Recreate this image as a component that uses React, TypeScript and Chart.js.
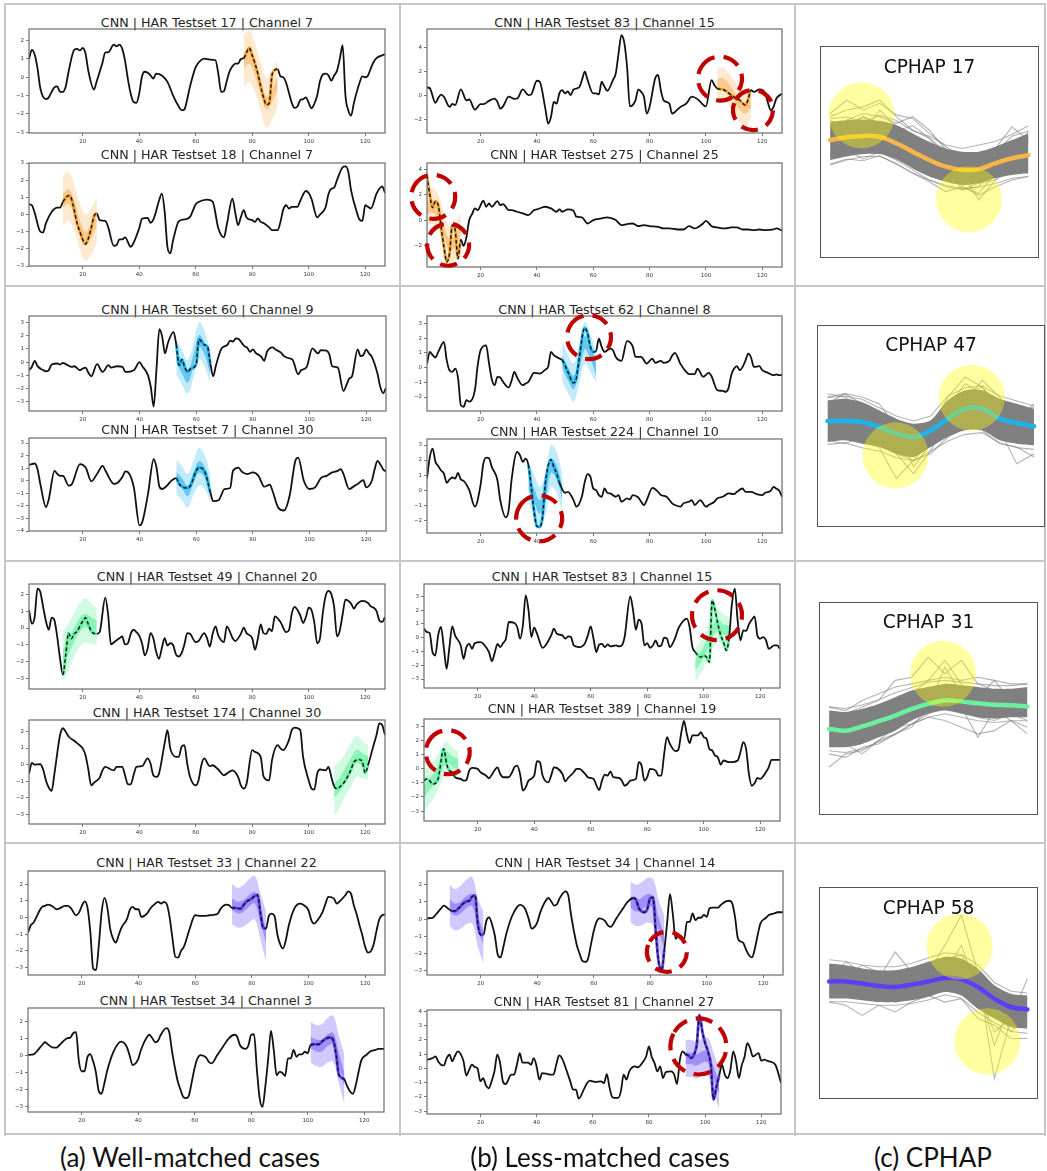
import React, { useEffect, useRef } from "react";
import { Chart, registerables } from "chart.js";

Chart.register(...registerables);
Chart.defaults.font.family = "'DejaVu Sans', sans-serif";

type Pt = [number, number];
type Band = { x0: number; center: number[]; inner: number[]; outer: number[] };
type Circ = { x: number; y: number };

// ---------------- series ----------------
const har17ch7: Pt[] = [[1,1.0],[2,1.5],[3,1.25],[4,0.5],[5,-0.6],[7,-1.2],[8,-1.1],[9,-0.8],[10,-0.55],[11,-0.5],[12,-0.8],[13,-0.8],[14,-0.5],[15,0.3],[17,1.5],[18,1.55],[19,1.47],[20,1.6],[21,1.3],[22,0.35],[24,-0.67],[25,-0.2],[27,0.8],[28,1.36],[29,1.36],[31,1.78],[32,1.7],[33,1.78],[34,1.55],[35,0.9],[36,-0.1],[37,-0.9],[38,-1.35],[39,-1.4],[40,-0.9],[41,0.05],[42,0.3],[43,0.25],[44,0.1],[45,-0.07],[46,0.2],[48,0.1],[50,-0.25],[52,-1.0],[54,-1.6],[55,-1.8],[56,-1.76],[57,-1.2],[58,-0.5],[60,0.55],[62,0.95],[63,1.02],[65,0.97],[67,0.93],[68,0.2],[69,-0.8],[70,-0.76],[71,-0.2],[72,0.33],[73,0.6],[74,0.75],[75,0.75],[76,1.0],[77,1.05],[79,1.6],[80,1.2],[81,0.75],[82,0.2],[83,-0.5],[84,-1.1],[85,-1.5],[86,-1.44],[87,0.1],[88,0.4],[89,0.45],[90,0.05],[91,0.0],[92,-0.3],[93,-0.85],[94,-1.4],[95,-1.67],[96,-1.6],[97,-1.25],[98,-1.2],[99,-1.1],[100,-1.4],[101,-1.7],[102,-1.45],[103,-1.0],[104,-0.2],[105,0.15],[106,0.2],[107,0.1],[108,-0.18],[109,0.1],[110,0.35],[111,1.0],[112,1.75],[113,-1.0],[114,-1.8],[115,-2.1],[116,-1.4],[118,-0.3],[119,0.05],[120,0.0],[121,0.1],[122,0.5],[123,0.85],[124,1.05],[126,1.2],[127,1.25]];

const har18ch7: Pt[] = [[1,0.6],[2,0.54],[3,0.1],[5,-1.0],[6,-1.05],[7,-0.5],[9,0.15],[11,0.4],[12,0.4],[13,0.73],[15,1.1],[16,0.93],[18,-0.5],[19,-1.0],[21,-1.72],[22,-1.4],[23,-0.8],[24,-0.1],[25,0.06],[26,-0.33],[28,-0.37],[29,-0.72],[31,-1.82],[32,-1.78],[33,-1.45],[34,-1.45],[35,-1.33],[37,-1.88],[38,-1.65],[40,-0.8],[41,-0.25],[43,-0.2],[44,-0.48],[45,-0.3],[46,0.2],[47,0.8],[48,1.22],[49,0.2],[50,-1.9],[51,-2.26],[52,-1.5],[54,-0.4],[56,-0.29],[58,-0.14],[60,0.6],[61,0.73],[64,0.87],[66,0.75],[68,-0.8],[70,-1.33],[71,-0.6],[73,0.93],[74,0.1],[75,-0.62],[76,-0.14],[77,0.25],[78,-0.17],[80,-0.33],[81,-0.43],[82,-0.23],[83,-0.43],[84,-0.5],[86,-0.75],[87,-0.91],[89,-0.91],[90,-0.43],[91,0.3],[92,0.54],[93,0.35],[94,0.44],[96,0.44],[97,0.8],[99,1.37],[100,1.25],[101,0.9],[103,-0.17],[104,0.0],[106,0.44],[107,1.2],[108,1.5],[109,1.57],[110,2.0],[112,2.75],[113,2.8],[114,2.5],[115,1.41],[117,0.15],[118,-0.3],[119,-0.37],[120,0.54],[121,0.45],[122,0.35],[124,1.22],[125,1.5],[126,1.64],[127,1.26]];

const har83ch15a: Pt[] = [[1,0.67],[2,0.6],[4,-0.6],[5,-0.2],[6,0.08],[7,-0.1],[9,-0.94],[10,-0.7],[11,-0.8],[13,0.5],[15,-0.4],[16,-0.33],[18,-1.17],[20,-0.72],[21,-0.72],[23,-0.44],[25,-0.25],[26,-0.53],[27,-1.08],[28,-0.9],[30,-0.1],[32,-0.28],[33,-0.25],[35,0.5],[37,0.03],[38,0.1],[40,1.22],[41,1.14],[43,-1.08],[44,-2.33],[45,-1.78],[46,-0.53],[47,-0.67],[48,0.2],[49,0.45],[50,0.17],[51,0.33],[52,0.03],[53,0.5],[55,0.67],[56,1.28],[57,1.97],[58,1.28],[60,0.17],[61,0.17],[62,0.1],[63,1.14],[64,0.72],[65,0.39],[67,1.28],[68,1.83],[69,3.5],[70,5.0],[71,4.4],[72,2.4],[73,-0.9],[75,-0.4],[76,0.5],[77,0.3],[78,-0.1],[79,-1.5],[80,-0.94],[82,1.42],[83,1.7],[84,0.44],[85,-0.4],[87,-0.67],[88,-1.5],[89,-1.36],[91,-0.94],[93,-0.67],[95,-0.1],[97,-0.3],[98,-0.53],[100,-0.9],[102,1.28],[103,0.86],[104,0.58],[106,0.5],[107,0.39],[109,0.03],[111,-0.25],[112,-0.39],[114,-0.8],[115,-0.3],[116,0.44],[117,0.3],[119,0.5],[121,0.22],[122,-0.6],[123,-1.22],[124,-0.94],[125,-0.25],[127,0.15]];

const har275ch25: Pt[] = [[1,3.5],[2,2.0],[3,1.0],[4,1.5],[5,1.2],[6,-0.5],[7,-2.07],[8,-3.25],[9,-2.6],[10,-0.37],[11,-0.76],[12,-3.0],[13,-1.5],[14,-2.0],[15,-1.3],[16,0.03],[17,0.5],[18,0.94],[19,0.81],[21,1.54],[22,1.07],[23,1.33],[24,1.07],[26,1.52],[27,1.2],[28,1.28],[30,0.81],[31,0.81],[33,0.68],[35,0.55],[37,0.42],[39,0.81],[40,0.86],[43,1.07],[45,0.94],[47,0.68],[48,0.86],[49,0.68],[51,0.86],[53,0.76],[54,0.29],[56,0.24],[58,-0.24],[60,0.03],[63,0.16],[65,0.24],[68,0.03],[70,-0.37],[72,-0.29],[74,-0.24],[76,-0.45],[78,-0.37],[80,-0.45],[83,-0.5],[85,-0.63],[87,-0.63],[90,-0.71],[92,-0.71],[94,-0.45],[96,-0.63],[97,-0.55],[99,-0.24],[100,-0.03],[102,-0.45],[104,-0.55],[107,-0.63],[109,-0.55],[111,-0.55],[113,-0.71],[115,-0.71],[117,-0.76],[119,-0.71],[121,-0.76],[124,-0.71],[125,-0.63],[127,-0.8]];

const har60ch9: Pt[] = [[1,-0.61],[2,-0.36],[3,0.1],[4,-0.3],[6,-0.6],[7,-0.69],[8,-0.6],[9,-0.18],[11,-0.1],[12,-0.18],[13,-0.05],[14,-0.15],[16,-0.36],[17,-0.31],[19,-0.61],[20,-0.48],[21,-0.41],[22,-0.82],[23,-1.07],[25,-0.15],[27,-0.74],[29,-0.23],[30,-0.41],[32,-0.31],[34,-0.36],[35,-0.74],[38,-0.61],[40,0.0],[41,-0.3],[43,-1.0],[44,-1.9],[45,-3.37],[46,-0.5],[47,2.5],[48,1.94],[49,0.66],[50,1.43],[52,2.3],[53,1.3],[54,-0.23],[55,0.2],[56,-0.4],[57,-0.74],[58,-0.5],[60,-0.15],[61,1.73],[63,1.3],[64,1.17],[65,-0.1],[66,-1.07],[67,-0.23],[69,1.05],[71,1.3],[72,1.63],[73,1.56],[74,1.81],[75,1.75],[77,1.22],[78,1.1],[79,0.79],[80,0.97],[81,0.71],[83,0.41],[84,0.1],[85,0.79],[87,1.12],[88,0.97],[90,0.71],[91,0.46],[93,0.28],[94,0.2],[96,-0.92],[97,-0.61],[99,-0.36],[101,1.05],[103,0.66],[104,0.92],[106,0.87],[107,0.59],[108,-0.31],[110,-0.41],[112,-2.19],[113,-1.76],[114,-1.25],[115,-1.07],[117,0.97],[118,0.46],[119,0.54],[120,0.97],[121,0.66],[122,0.41],[124,-0.87],[125,-1.89],[126,-2.35],[127,-1.94]];

const har7ch30: Pt[] = [[1,1.26],[3,1.37],[4,0.92],[5,-0.26],[7,-2.1],[8,-1.45],[10,0.79],[11,0.53],[12,0.39],[13,0.39],[15,-0.39],[16,-0.32],[19,1.32],[21,1.05],[23,-0.05],[25,0.53],[27,1.18],[28,0.79],[31,-0.26],[32,-0.21],[34,0.32],[35,0.74],[36,0.66],[38,-0.53],[40,-3.55],[41,-3.29],[43,-1.05],[45,1.71],[46,1.05],[47,-0.45],[48,-0.66],[50,-0.32],[51,-0.05],[53,0.21],[54,-0.26],[57,-0.58],[58,-0.39],[60,0.79],[61,1.05],[63,0.74],[65,-0.92],[66,-1.63],[68,-1.53],[70,-0.66],[72,-0.58],[73,0.79],[75,1.05],[76,0.74],[78,0.53],[80,0.66],[82,0.39],[84,-0.47],[86,-0.32],[87,-0.84],[89,-2.16],[91,-2.37],[93,-1.18],[95,1.58],[96,1.84],[98,0.0],[100,-0.66],[102,-0.53],[104,0.21],[106,0.39],[108,0.66],[110,0.79],[111,0.92],[112,0.53],[114,-0.66],[116,-0.39],[117,-0.26],[119,0.05],[120,-0.53],[122,0.0],[123,0.92],[124,1.58],[125,1.3],[126,0.9],[127,0.74]];

const har62ch8: Pt[] = [[1,0.27],[2,1.06],[3,0.84],[4,0.68],[5,1.06],[7,1.74],[8,0.5],[9,-0.2],[10,-0.29],[11,-0.07],[12,-0.68],[13,-2.55],[14,-2.66],[15,-2.21],[16,-2.32],[18,-1.53],[19,0.16],[20,1.17],[22,1.51],[23,0.3],[24,-0.8],[25,-1.2],[26,-0.63],[27,-0.68],[28,-0.97],[30,-1.35],[31,-0.9],[32,-0.29],[33,-0.68],[35,-1.2],[36,-1.08],[37,-0.97],[39,-0.36],[41,-0.41],[43,-0.14],[44,0.05],[45,1.06],[46,0.84],[48,0.61],[49,0.5],[51,-0.29],[53,-1.04],[54,-0.74],[55,0.61],[57,2.7],[58,2.3],[59,1.4],[60,1.06],[61,1.13],[62,1.96],[63,1.4],[64,1.06],[66,1.29],[67,1.17],[68,0.72],[70,0.45],[72,1.8],[74,1.44],[75,0.72],[76,0.72],[77,0.72],[79,0.27],[81,0.61],[82,0.32],[84,0.45],[85,0.32],[87,0.45],[88,0.8],[89,1.0],[91,0.23],[93,-0.29],[94,-0.45],[96,-0.45],[97,-0.07],[99,-0.63],[101,-0.36],[102,-0.59],[104,-1.53],[106,-1.58],[107,-1.65],[108,-1.4],[109,-0.5],[110,-0.07],[111,0.09],[112,-0.18],[114,0.45],[115,0.95],[116,0.7],[117,0.05],[119,0.09],[120,-0.18],[122,-0.36],[124,-0.52],[125,-0.47],[126,-0.52],[127,-0.5]];

const har224ch10: Pt[] = [[1,0.77],[2,2.2],[3,2.76],[4,1.88],[5,1.6],[6,1.3],[7,1.1],[8,0.49],[9,0.71],[10,0.84],[11,0.77],[12,1.15],[13,0.71],[14,0.62],[16,0.0],[18,-1.1],[20,0.33],[21,1.77],[22,2.16],[23,2.12],[24,1.55],[26,0.66],[27,-0.66],[29,-1.81],[30,-1.32],[31,0.66],[33,2.54],[34,2.32],[35,1.88],[36,2.1],[37,1.66],[38,0.22],[39,-1.4],[40,-2.4],[41,-2.45],[42,-1.8],[43,0.44],[45,2.03],[46,1.55],[47,1.1],[48,0.5],[50,-0.18],[51,-0.11],[53,-0.66],[54,-1.1],[56,-0.4],[57,0.55],[58,1.06],[59,0.88],[60,0.11],[61,0.0],[62,-0.33],[63,-0.44],[64,0.11],[65,-0.18],[66,-0.22],[68,-0.44],[69,-0.33],[70,-0.77],[72,-0.55],[73,-0.62],[74,-0.33],[76,-0.49],[77,-0.77],[78,-0.99],[79,-0.66],[81,0.15],[83,-0.11],[84,-0.33],[86,-0.44],[88,-0.88],[89,-0.99],[91,-1.1],[92,-0.88],[94,-0.77],[95,-0.66],[96,-0.99],[98,-0.66],[100,-1.1],[101,-0.99],[103,-0.77],[104,-0.55],[106,-0.44],[108,-0.22],[110,-0.26],[111,-0.11],[113,0.11],[114,-0.11],[116,-0.11],[118,-0.26],[120,-0.33],[121,-0.18],[123,-0.04],[124,0.22],[125,0.1],[126,-0.04],[127,-0.44]];

const har49ch20: Pt[] = [[1,1.05],[2,0.26],[3,0.65],[4,2.33],[5,2.13],[6,1.25],[7,0.4],[8,-0.1],[9,0.61],[10,0.45],[11,-0.53],[12,-1.82],[13,-2.75],[14,-1.6],[15,-0.3],[16,-0.63],[17,-0.34],[18,-0.2],[19,0.1],[20,0.4],[21,0.61],[22,0.22],[23,-0.18],[25,-0.34],[26,-0.24],[28,1.8],[29,0.8],[30,-0.97],[31,-0.85],[33,-0.6],[34,-0.5],[35,-0.97],[36,-0.9],[37,-0.34],[38,-0.1],[39,-0.24],[40,-0.45],[41,-0.9],[42,-1.62],[43,-1.2],[44,-0.3],[45,-0.6],[46,-1.4],[47,-1.82],[48,-1.2],[49,-0.6],[50,-1.03],[51,-0.9],[52,-1.0],[53,-1.56],[54,-1.68],[55,-1.48],[56,-0.97],[57,-0.3],[58,-0.34],[60,-0.83],[61,-0.77],[63,-0.3],[64,-0.6],[65,-1.09],[66,-0.34],[67,0.1],[68,-0.43],[70,-0.83],[71,0.1],[73,-0.57],[74,-0.77],[76,-0.34],[77,0.02],[78,-0.3],[80,-0.6],[81,-1.28],[82,-0.63],[83,0.22],[84,-0.3],[85,-0.34],[86,-0.04],[87,-0.18],[88,0.69],[90,0.36],[92,-0.24],[93,-0.14],[94,0.85],[95,1.25],[97,0.75],[98,0.3],[99,0.65],[100,1.2],[101,1.05],[102,0.3],[103,-0.9],[104,-0.6],[105,0.9],[106,1.9],[107,2.19],[108,2.0],[109,1.25],[110,-0.49],[111,-0.14],[112,0.8],[113,1.68],[115,1.44],[116,1.15],[117,1.4],[119,1.6],[121,1.48],[122,1.28],[123,1.2],[124,1.0],[125,0.45],[126,0.36],[127,0.65]];

const har174ch30: Pt[] = [[1,-0.55],[2,0.1],[3,0.0],[5,0.02],[6,-0.3],[7,-0.96],[8,-1.4],[9,-1.6],[10,-0.55],[12,1.79],[13,2.2],[14,1.99],[15,1.7],[17,1.44],[18,1.3],[20,0.98],[21,0.57],[22,-0.3],[23,-1.26],[24,-1.1],[26,-0.79],[27,-0.35],[28,-0.14],[30,-0.3],[31,-0.35],[32,-0.14],[34,-0.14],[35,-0.65],[36,-1.2],[37,-1.2],[38,-0.65],[39,-0.14],[41,-0.1],[43,0.37],[44,0.06],[45,-0.65],[46,-0.75],[47,-0.55],[49,1.28],[50,2.09],[51,0.98],[53,0.47],[54,0.47],[55,1.08],[56,1.18],[57,0.06],[58,-0.75],[60,-1.26],[61,-0.96],[62,-0.04],[63,0.37],[65,-0.1],[66,-0.04],[68,-0.3],[70,-0.65],[71,-0.55],[73,-0.35],[75,-0.75],[76,-1.26],[77,-1.46],[78,-1.16],[80,0.87],[81,0.77],[83,0.47],[84,-0.71],[86,-0.96],[87,0.26],[89,1.18],[90,0.98],[91,0.87],[93,1.48],[94,2.09],[95,2.24],[97,2.09],[98,0.47],[100,-0.96],[101,-1.46],[102,-1.52],[103,-0.55],[104,-0.3],[106,-0.35],[107,-0.14],[108,-0.75],[109,-1.32],[110,-1.46],[111,-1.36],[113,-0.96],[115,-0.3],[116,0.16],[118,0.3],[119,0.16],[120,-0.51],[121,-0.04],[123,1.2],[124,1.79],[125,2.5],[126,2.4],[127,1.79]];

const har83ch15b: Pt[] = [[1,0.66],[2,0.41],[3,0.34],[4,-1.04],[5,-1.29],[6,0.17],[7,0.78],[8,-0.68],[9,-2.26],[10,-0.68],[11,0.83],[12,0.17],[14,-0.56],[15,-1.53],[16,-0.68],[17,-0.44],[18,-0.8],[19,-0.39],[21,-0.32],[22,-0.44],[24,-1.04],[25,-1.7],[26,-1.12],[27,-0.44],[28,-0.68],[29,-0.39],[30,-0.07],[31,1.14],[33,1.07],[34,0.78],[35,-0.07],[36,0.9],[37,3.08],[38,1.99],[39,0.05],[40,0.73],[41,0.29],[43,-0.73],[44,-0.56],[46,0.17],[47,0.66],[48,0.29],[50,0.17],[51,-0.07],[52,0.1],[53,0.05],[54,-0.56],[56,-0.68],[58,-0.39],[59,0.17],[60,0.83],[61,-0.07],[62,-1.04],[63,-0.49],[64,-0.44],[65,-0.68],[66,-0.49],[67,-0.63],[69,-0.56],[70,-0.63],[71,-0.56],[72,0.05],[74,3.0],[75,1.99],[76,0.58],[77,1.31],[78,1.02],[79,-0.56],[80,-0.39],[81,-0.73],[82,-0.56],[83,-0.19],[84,-0.63],[85,-0.56],[86,0.0],[87,-0.07],[88,-0.68],[90,0.05],[91,0.66],[92,1.02],[94,1.38],[95,0.78],[96,-0.68],[97,-1.04],[99,-1.41],[100,-1.29],[101,-1.41],[102,-1.77],[103,2.72],[104,2.0],[105,1.0],[106,0.2],[107,-0.32],[108,-0.92],[109,0.05],[110,2.5],[111,3.57],[112,1.26],[113,-0.19],[114,0.53],[115,0.49],[116,0.97],[117,1.3],[118,1.55],[119,0.17],[120,-0.07],[121,0.05],[122,-0.15],[123,-0.8],[125,-0.56],[126,-0.56],[127,-0.8]];

const har389ch19: Pt[] = [[1,-0.85],[2,-0.73],[3,-0.85],[4,-1.09],[5,-1.04],[6,-0.73],[8,1.39],[9,0.33],[10,-0.14],[11,-0.26],[12,-0.61],[14,-0.73],[15,-0.85],[16,-0.8],[17,-0.14],[18,0.05],[20,-0.02],[21,-0.26],[23,-0.5],[24,-0.69],[25,-0.43],[27,0.09],[28,-0.38],[29,-0.61],[31,-0.61],[32,-0.33],[33,0.09],[34,0.21],[35,-0.38],[36,-1.56],[37,-1.32],[38,-0.85],[40,-0.5],[41,0.52],[42,0.45],[43,-0.5],[45,-0.97],[46,-0.5],[47,0.09],[48,0.05],[50,-0.38],[51,-0.9],[52,-0.66],[54,-0.26],[55,-0.02],[56,-0.02],[58,-0.38],[59,-0.61],[60,-0.66],[61,-0.73],[63,-1.51],[64,-0.85],[65,-0.43],[66,-0.5],[67,-0.19],[68,-0.61],[70,-0.66],[71,-0.85],[72,-1.21],[73,-1.09],[74,-0.85],[76,-0.73],[77,0.45],[78,0.21],[79,-0.85],[80,-0.61],[81,-0.02],[83,-0.14],[84,-0.5],[85,-0.5],[86,1.04],[87,2.22],[88,1.75],[90,1.23],[91,1.32],[92,2.46],[93,3.36],[94,2.46],[95,1.8],[96,2.34],[98,2.34],[99,2.58],[100,2.22],[101,2.1],[102,1.39],[103,1.28],[104,0.92],[105,0.8],[106,0.28],[107,0.57],[109,0.45],[110,0.45],[112,0.57],[113,1.16],[114,1.87],[115,1.39],[116,-0.38],[117,-1.21],[118,-1.04],[119,-0.66],[120,-0.73],[122,-0.26],[123,0.09],[124,0.61],[125,0.61],[127,0.61]];

const har33ch22: Pt[] = [[1,-0.9],[2,-0.46],[3,-0.3],[4,0.04],[5,0.4],[6,0.64],[7,0.7],[8,0.78],[10,0.64],[11,0.5],[12,0.54],[14,0.7],[15,0.7],[16,0.6],[18,0.14],[19,0.3],[20,0.7],[21,0.98],[22,0.6],[23,-0.86],[24,-3.06],[25,-3.16],[26,-1.66],[27,0.34],[28,1.18],[29,0.6],[30,-0.66],[31,-1.26],[32,-1.5],[33,-1.06],[34,-0.6],[36,-0.06],[37,0.5],[38,0.64],[39,0.5],[40,0.5],[41,0.04],[43,0.24],[44,0.5],[45,0.7],[47,0.94],[48,0.84],[49,0.94],[50,0.8],[51,0.0],[52,-1.26],[53,-2.36],[54,-2.4],[55,-2.0],[56,-1.76],[57,-1.26],[58,-0.7],[60,0.14],[62,0.1],[63,0.1],[65,0.14],[67,0.18],[68,0.24],[69,0.54],[71,0.78],[72,0.74],[73,0.58],[74,0.58],[76,0.54],[77,0.74],[78,0.94],[80,1.14],[81,1.3],[82,1.38],[83,0.34],[84,-0.62],[85,-0.66],[86,0.1],[87,0.24],[88,0.1],[89,-1.0],[90,-1.6],[91,-1.86],[92,-1.36],[93,-0.5],[95,0.54],[97,0.84],[98,0.78],[100,0.44],[101,-0.16],[102,-0.36],[103,-0.2],[105,0.34],[106,0.84],[107,1.24],[109,1.14],[110,0.84],[111,0.98],[113,1.34],[114,1.58],[115,1.44],[116,0.74],[117,0.2],[118,-0.46],[119,-1.06],[120,-1.76],[121,-2.1],[122,-2.02],[123,-1.6],[124,-0.8],[125,-0.1],[126,0.14],[127,0.18]];

// Testset 34: channels 3 and 14 are drawn with the same curve in the picture
const har34: Pt[] = [[1,0.05],[3,0.08],[4,0.24],[6,0.63],[7,0.79],[8,0.67],[10,0.47],[11,0.47],[12,0.6],[14,0.93],[15,1.03],[16,1.07],[17,1.32],[18,1.38],[19,-0.3],[20,-0.91],[21,-0.91],[22,-0.1],[23,0.1],[24,-0.3],[25,-0.95],[26,-2.04],[27,-2.23],[28,-1.64],[29,-0.9],[31,0.14],[33,0.73],[34,0.83],[35,0.75],[36,0.5],[37,0.0],[38,-0.55],[40,-0.2],[41,0.35],[43,1.07],[44,1.23],[45,1.03],[46,0.79],[47,0.87],[48,1.23],[50,1.62],[51,1.38],[52,0.24],[53,-0.7],[54,-1.5],[55,-2.0],[56,-2.43],[57,-2.49],[58,-2.3],[59,-1.5],[60,-0.7],[61,-0.16],[62,0.04],[64,-0.1],[65,-0.36],[66,-0.45],[68,0.04],[70,0.53],[72,1.0],[74,1.23],[75,1.13],[76,0.63],[78,0.4],[79,0.6],[80,1.23],[81,1.26],[82,-0.8],[83,-2.5],[84,-3.0],[85,-1.8],[86,-0.2],[87,1.46],[88,0.3],[89,-1.15],[90,-0.95],[91,-1.0],[92,-1.19],[93,-0.16],[94,-0.16],[95,0.34],[96,-0.06],[97,0.08],[98,0.08],[99,0.24],[100,0.14],[101,0.63],[102,0.67],[104,0.67],[105,0.83],[107,1.05],[108,1.07],[109,0.93],[110,0.14],[111,-1.1],[112,-1.3],[113,-1.4],[114,-1.8],[115,-2.1],[116,-2.23],[117,-1.74],[118,-0.95],[119,-0.26],[121,0.08],[122,0.24],[124,0.34],[125,0.4],[127,0.4]];

const har81ch27: Pt[] = [[1,0.61],[3,0.72],[4,0.84],[5,0.49],[6,0.26],[7,0.21],[8,0.72],[9,0.96],[10,0.5],[11,0.91],[12,1.19],[13,1.0],[14,0.5],[15,-0.5],[16,-0.1],[17,0.26],[18,0.1],[19,0.0],[20,-0.91],[21,-0.68],[22,-1.2],[23,-1.4],[24,-0.9],[25,-0.21],[26,0.96],[27,0.4],[28,-0.91],[29,-1.1],[31,-0.44],[32,-0.44],[33,0.26],[34,1.07],[35,0.4],[37,0.4],[38,0.26],[39,0.72],[40,0.14],[41,-0.79],[42,-0.33],[44,-0.4],[45,-0.44],[46,-0.44],[47,0.26],[48,0.91],[49,0.72],[51,-0.33],[52,-0.91],[53,-1.49],[54,-1.49],[55,-2.12],[57,-1.4],[58,-1.03],[59,-0.86],[60,-0.91],[61,-0.96],[63,-0.91],[64,-1.03],[65,-0.4],[66,-1.38],[67,-2.03],[69,-2.07],[70,-1.61],[71,-0.44],[72,-0.79],[73,-0.21],[75,0.14],[76,0.07],[78,0.49],[79,0.84],[80,1.54],[81,0.8],[82,0.37],[83,-0.21],[84,0.14],[85,-0.68],[86,-0.26],[88,-0.21],[89,-0.44],[90,-1.1],[91,0.6],[92,1.19],[93,1.0],[94,0.91],[95,0.72],[96,0.96],[97,1.65],[98,3.75],[99,2.59],[100,1.77],[101,1.19],[102,0.3],[103,-2.19],[104,-1.3],[105,-0.5],[106,0.26],[107,-0.44],[108,-0.68],[109,-0.09],[110,1.19],[111,0.5],[112,-0.68],[113,0.2],[114,0.8],[115,1.77],[116,1.42],[117,0.84],[119,1.07],[120,0.54],[121,0.61],[122,0.54],[123,0.49],[125,0.26],[127,-1.03]];

// ---------------- highlighted CPHAP bands (sampled every 2 steps) ----------------
const band17: Band = { x0: 77, center: [0.9, 1.15, 0.5, -0.5, -1.4, -1.0, -0.3], inner: [0.42, 0.42, 0.4, 0.38, 0.35, 0.35, 0.35], outer: [1.45, 1.4, 1.35, 1.35, 1.35, 1.35, 1.3] };
const band18: Band = { x0: 13, center: [0.8, 1.05, 0.4, -0.7, -1.35, -1.0, -0.3], inner: [0.42, 0.42, 0.4, 0.38, 0.36, 0.36, 0.36], outer: [1.45, 1.4, 1.35, 1.35, 1.35, 1.35, 1.35] };
const band83a: Band = { x0: 104, center: [0.9, 1.0, 0.6, -0.1, -0.8, -1.1, -0.6], inner: [0.45, 0.45, 0.42, 0.4, 0.4, 0.4, 0.4], outer: [1.3, 1.3, 1.3, 1.35, 1.4, 1.4, 1.3] };
const band275: Band = { x0: 1, center: [1.0, 1.1, 0.6, -0.8, -1.9, -1.6, -0.8], inner: [0.5, 0.5, 0.48, 0.45, 0.45, 0.45, 0.45], outer: [1.4, 1.4, 1.4, 1.4, 1.4, 1.4, 1.4] };
const band60: Band = { x0: 53, center: [0.4, -0.4, -1.1, 0.1, 1.6, 1.0, -0.5], inner: [0.45, 0.45, 0.45, 0.45, 0.45, 0.45, 0.45], outer: [1.35, 1.3, 1.3, 1.3, 1.4, 1.35, 1.1] };
const band7: Band = { x0: 53, center: [0.3, -0.2, -0.8, 0.2, 1.1, 0.7, -0.6], inner: [0.42, 0.42, 0.42, 0.42, 0.45, 0.42, 0.4], outer: [1.4, 1.35, 1.35, 1.35, 1.5, 1.35, 1.1] };
const band62: Band = { x0: 49, center: [0.4, -0.4, -1.0, 0.2, 1.7, 1.0, 0.0], inner: [0.45, 0.45, 0.45, 0.45, 0.45, 0.45, 0.45], outer: [1.35, 1.3, 1.3, 1.3, 1.4, 1.3, 1.0] };
const band224: Band = { x0: 37, center: [0.5, -0.3, -1.1, -0.3, 1.6, 1.2, -0.2], inner: [0.45, 0.45, 0.45, 0.45, 0.45, 0.45, 0.45], outer: [1.35, 1.35, 1.35, 1.35, 1.4, 1.35, 1.3] };
const band49: Band = { x0: 13, center: [-1.7, -1.1, -0.4, 0.2, 0.45, 0.25, 0.1], inner: [0.42, 0.42, 0.4, 0.4, 0.4, 0.38, 0.38], outer: [1.5, 1.4, 1.3, 1.3, 1.3, 1.2, 1.1] };
const band174: Band = { x0: 109, center: [-1.6, -1.2, -0.6, 0.0, 0.5, 0.3, 0.1], inner: [0.42, 0.42, 0.4, 0.4, 0.4, 0.38, 0.38], outer: [1.5, 1.4, 1.3, 1.3, 1.25, 1.15, 1.05] };
const band83b: Band = { x0: 97, center: [-2.0, -1.4, -0.6, 0.4, 0.9, 0.6, 0.5], inner: [0.4, 0.4, 0.4, 0.4, 0.4, 0.38, 0.38], outer: [1.2, 1.2, 1.2, 1.2, 1.2, 1.1, 1.0] };
const band389: Band = { x0: 1, center: [-1.6, -1.1, -0.6, 0.2, 0.8, 0.5, 0.3], inner: [0.4, 0.4, 0.4, 0.4, 0.4, 0.38, 0.38], outer: [1.5, 1.4, 1.3, 1.2, 1.1, 1.0, 0.9] };
const band33: Band = { x0: 73, center: [0.8, 0.6, 0.7, 1.0, 1.2, 0.1, -1.1], inner: [0.35, 0.35, 0.35, 0.35, 0.35, 0.38, 0.4], outer: [1.2, 1.2, 1.25, 1.3, 1.3, 1.4, 1.5] };
const band34a: Band = { x0: 101, center: [0.8, 0.6, 0.6, 0.9, 1.0, -0.2, -1.4], inner: [0.35, 0.35, 0.35, 0.35, 0.35, 0.38, 0.4], outer: [1.2, 1.2, 1.25, 1.3, 1.35, 1.4, 1.45] };
const band34b: Band = { x0: 9, center: [0.8, 0.55, 0.7, 1.0, 1.1, -0.2, -1.1], inner: [0.35, 0.35, 0.35, 0.35, 0.35, 0.38, 0.4], outer: [1.2, 1.2, 1.25, 1.3, 1.35, 1.4, 1.5] };
const band34c: Band = { x0: 73, center: [1.0, 0.8, 0.9, 1.1, 1.0, -0.3, -1.3], inner: [0.35, 0.35, 0.35, 0.35, 0.35, 0.38, 0.4], outer: [1.2, 1.2, 1.25, 1.3, 1.35, 1.4, 1.5] };
const band81: Band = { x0: 93, center: [0.7, 0.7, 0.6, 0.8, 0.8, -0.3, -1.4], inner: [0.4, 0.4, 0.4, 0.4, 0.4, 0.4, 0.4], outer: [1.3, 1.3, 1.3, 1.3, 1.35, 1.4, 1.4] };

// ---------------- red dashed circles (data coordinates) ----------------
const circles83a: Circ[] = [{ x: 105, y: 1.4 }, { x: 116.7, y: -1.2 }];
const circles275: Circ[] = [{ x: 3.2, y: 1.85 }, { x: 8.5, y: -1.9 }];
const circles62: Circ[] = [{ x: 58.5, y: 2.07 }];
const circles224: Circ[] = [{ x: 40.8, y: -1.88 }];
const circles83b: Circ[] = [{ x: 104.7, y: 1.63 }];
const circles389: Circ[] = [{ x: 9.4, y: 1.16 }];
const circles34: Circ[] = [{ x: 85.9, y: -1.9 }];
const circles81: Circ[] = [{ x: 97.6, y: 1.54 }];

// ---------------- tick labels ----------------
const xTickValues = [20, 40, 60, 80, 100, 120];
const ytA = [-3, -2, -1, 0, 1, 2];
const ytB = [-3, -2, -1, 0, 1, 2, 3];
const ytC = [-2, 0, 2, 4];
const ytD = [-4, -3, -2, -1, 0, 1, 2, 3];
const ytE = [-2, -1, 0, 1, 2, 3];
const ytF = [-3, -2, -1, 0, 1, 2, 3, 4];

// ---------------- CPHAP panels (13-step patterns) ----------------
const cphap17Mean = [0.34, 0.42, 0.46, 0.44, 0.25, 0.01, -0.23, -0.42, -0.51, -0.49, -0.32, -0.18, -0.09];
const cphap17Hi = [0.86, 0.91, 0.93, 0.89, 0.77, 0.53, 0.29, 0.10, 0.01, 0.01, 0.15, 0.34, 0.53];
const cphap17Lo = [-0.23, -0.13, -0.06, -0.06, -0.21, -0.47, -0.70, -0.85, -0.94, -0.89, -0.75, -0.66, -0.61];
const cphap17Members = [
  [1.10, 1.48, 1.20, 1.39, 1.06, 0.96, 0.53, 0.15, -0.13, -0.04, 0.10, 0.72, 0.34],
  [1.01, 1.20, 1.29, 1.48, 1.01, 0.63, 0.39, -0.13, -0.61, -1.37, -0.80, -0.13, 0.25],
  [0.53, 0.91, 1.10, 1.01, 0.82, 1.01, 0.63, 0.06, -0.99, -1.18, -0.61, -0.13, 0.44],
  [0.34, 0.72, 0.53, 1.20, 0.72, 0.34, 0.15, -0.42, -1.08, -0.99, -0.42, 0.06, 0.34],
  [-0.13, -0.04, 0.06, 0.01, -0.23, -0.51, -0.80, -0.99, -1.08, -0.89, -0.80, -0.51, -0.42],
  [-0.37, -0.23, -0.13, -0.13, -0.32, -0.61, -0.85, -1.13, -0.99, -1.23, -0.99, -0.80, -0.70],
  [0.91, 0.72, 1.01, 0.82, 0.53, 0.44, 0.25, -0.04, -0.23, -0.32, -0.13, 0.06, 0.58],
  [0.95, 1.0, 0.85, 1.05, 0.9, 0.6, 0.45, 0.2, 0.1, 0.2, 0.3, 0.5, 0.75],
  [-0.35, -0.2, -0.25, -0.1, -0.35, -0.6, -0.8, -0.95, -1.05, -1.0, -0.9, -0.75, -0.7],
  [0.7, 0.8, 1.0, 0.75, 0.6, 0.75, 0.4, 0.0, -0.2, -0.1, 0.0, 0.45, 0.6],
  [-0.1, 0.05, -0.2, 0.0, -0.1, -0.3, -0.6, -0.7, -0.75, -0.7, -0.55, -0.45, -0.5],
];
const cphap17Circles: Circ[] = [{ x: 1.9, y: 1.05 }, { x: 8.4, y: -1.35 }];

const cphap47Mean = [0.15, 0.15, 0.12, -0.03, -0.23, -0.33, -0.13, 0.22, 0.52, 0.52, 0.22, 0.09, -0.01];
const cphap47Hi = [0.77, 0.82, 0.72, 0.47, 0.22, 0.07, 0.17, 0.77, 1.07, 1.07, 0.82, 0.67, 0.52];
const cphap47Lo = [-0.48, -0.43, -0.53, -0.63, -0.83, -0.93, -0.63, -0.33, -0.13, -0.13, -0.43, -0.53, -0.58];
const cphap47Members = [
  [0.17, 0.37, -0.03, -0.63, -1.58, -1.03, -0.43, 0.37, 0.97, 1.17, 0.37, -0.13, -0.33],
  [0.67, 0.97, 0.67, 0.17, -0.23, -0.53, -0.03, 0.87, 1.47, 1.17, 0.57, -0.03, -0.53],
  [-0.03, 0.07, 0.17, -0.13, -0.53, -0.83, -0.23, 0.37, 0.67, 0.57, -0.13, -1.13, -0.83],
  [0.97, 0.87, 0.57, 0.37, -0.03, -1.23, -0.53, 0.57, 1.27, 0.97, 0.67, 0.17, 0.67],
  [-0.43, -0.53, -0.33, -0.53, -0.83, -1.03, -0.83, -0.33, -0.03, -0.13, -0.53, -0.63, -0.93],
  [0.37, 0.57, 0.27, -0.23, -0.83, -1.43, -0.73, 0.17, 0.77, 1.37, 0.87, 0.07, -0.23],
  [0.87, 0.97, 0.87, 0.67, -0.03, -0.23, -0.33, -0.03, 0.17, 0.37, 0.47, 0.37, 0.57],
  [0.85, 0.9, 0.8, 0.55, 0.3, 0.15, 0.3, 0.9, 1.15, 1.2, 0.9, 0.75, 0.6],
  [-0.55, -0.5, -0.65, -0.75, -0.95, -1.05, -0.75, -0.45, -0.25, -0.2, -0.5, -0.65, -0.7],
  [0.5, 0.65, 0.45, 0.25, -0.1, -0.4, 0.0, 0.5, 0.85, 0.9, 0.65, 0.3, 0.2],
  [-0.3, -0.2, -0.35, -0.45, -0.6, -0.75, -0.45, 0.0, 0.2, 0.25, -0.1, -0.3, -0.4],
];
const cphap47Circles: Circ[] = [{ x: 3.95, y: -0.88 }, { x: 8.38, y: 0.85 }];

const cphap31Mean = [-0.58, -0.63, -0.51, -0.36, -0.20, -0.01, 0.13, 0.23, 0.20, 0.15, 0.11, 0.09, 0.06];
const cphap31Hi = [-0.06, -0.10, -0.01, 0.13, 0.32, 0.51, 0.61, 0.70, 0.66, 0.61, 0.56, 0.56, 0.61];
const cphap31Lo = [-1.10, -1.10, -1.01, -0.82, -0.63, -0.34, -0.15, -0.06, -0.15, -0.25, -0.29, -0.25, -0.25];
const cphap31Members = [
  [-1.67, -1.29, -1.20, -0.91, -0.72, -0.44, -0.15, 0.04, -0.06, -0.25, -0.34, -0.15, -0.06],
  [-0.25, -0.15, 0.04, 0.23, 0.80, 0.89, 1.46, 0.99, 1.37, 0.70, 0.51, 0.42, 0.42],
  [-0.53, -0.44, -0.25, -0.06, 0.23, 0.42, 0.61, 0.42, 0.04, -0.82, -0.06, -0.34, -0.53],
  [-1.29, -1.39, -1.10, -1.01, -0.72, -0.53, 0.04, 1.18, 0.42, 0.23, 0.04, -0.15, -0.34],
  [0.04, -0.06, 0.23, 0.42, 0.61, 0.70, 0.80, 0.89, 0.80, 0.89, 0.80, 0.70, 0.70],
  [-0.91, -1.01, -1.29, -0.91, -0.53, -0.44, -0.25, -0.34, -0.53, -0.72, -0.63, -0.34, -0.72],
  [-0.72, -0.82, -0.72, -0.44, 0.04, 0.42, 0.80, 1.37, 0.70, 0.32, 0.80, 0.23, 0.13],
  [0.05, 0.0, 0.1, 0.25, 0.45, 0.6, 0.75, 0.8, 0.75, 0.7, 0.65, 0.65, 0.7],
  [-1.2, -1.25, -1.15, -0.95, -0.75, -0.45, -0.25, -0.15, -0.25, -0.35, -0.4, -0.35, -0.35],
  [-0.3, -0.35, -0.2, -0.05, 0.15, 0.35, 0.5, 0.55, 0.5, 0.45, 0.4, 0.35, 0.4],
  [-0.85, -0.9, -0.8, -0.65, -0.45, -0.2, -0.05, 0.05, 0.0, -0.1, -0.15, -0.1, -0.15],
];
const cphap31Circles: Circ[] = [{ x: 6.9, y: 0.99 }];

const cphap58Mean = [0.33, 0.33, 0.27, 0.20, 0.17, 0.24, 0.33, 0.43, 0.39, 0.17, -0.16, -0.40, -0.47];
const cphap58Hi = [0.84, 0.79, 0.70, 0.65, 0.65, 0.74, 0.89, 1.03, 0.98, 0.70, 0.22, -0.02, -0.07];
const cphap58Lo = [-0.16, -0.16, -0.21, -0.26, -0.26, -0.21, -0.11, 0.03, -0.07, -0.45, -0.73, -0.97, -1.02];
const cphap58Members = [
  [0.22, 0.31, 0.22, 0.12, 0.22, 0.41, 0.60, 1.36, 2.22, 0.60, -2.45, -0.73, -0.54],
  [0.41, 0.89, 0.60, 0.41, 1.17, 0.60, 0.79, 0.98, 1.08, 0.41, -0.35, -1.11, -0.64],
  [0.22, 0.03, -0.07, -0.16, -0.26, -0.16, 0.22, 0.60, 1.36, 0.03, -1.11, -0.73, 0.41],
  [-0.26, -0.35, -0.64, -0.35, -0.54, -0.26, -0.07, -0.26, -0.16, -0.73, -0.92, -1.30, -1.30],
  [0.60, 0.50, 0.79, 0.60, 0.41, 0.22, 0.12, 0.31, 0.89, 0.22, -1.50, -0.26, -0.16],
  [0.03, 0.12, 0.03, -0.07, 0.03, 0.12, 0.41, 0.79, 0.70, 0.41, -0.07, -0.54, -0.73],
  [0.70, 0.60, 0.41, 0.31, 0.22, 0.12, 0.03, 0.22, 0.03, -0.26, -0.64, -0.83, -0.83],
  [0.95, 0.9, 0.8, 0.75, 0.75, 0.85, 1.0, 1.15, 1.1, 0.8, 0.3, 0.05, 0.0],
  [-0.25, -0.25, -0.3, -0.35, -0.35, -0.3, -0.2, -0.05, -0.15, -0.55, -0.85, -1.1, -1.15],
  [0.6, 0.55, 0.45, 0.5, 0.45, 0.55, 0.7, 0.85, 0.8, 0.5, 0.05, -0.2, -0.25],
  [0.0, 0.05, -0.05, -0.1, -0.1, -0.05, 0.1, 0.2, 0.15, -0.2, -0.5, -0.75, -0.8],
];
const cphap58Circles: Circ[] = [{ x: 7.9, y: 1.33 }, { x: 9.58, y: -1.38 }];

// ---------------- styles ----------------
const PAL: Record<string, { line: string; inner: string; outer: string }> = {
  orange: { line: "#f0a030", inner: "rgba(245,170,70,0.5)", outer: "rgba(250,205,150,0.45)" },
  cyan: { line: "#18b0ea", inner: "rgba(30,170,235,0.55)", outer: "rgba(120,210,245,0.45)" },
  green: { line: "#5cf09a", inner: "rgba(70,235,140,0.5)", outer: "rgba(150,245,190,0.45)" },
  blue: { line: "#5a3cf2", inner: "rgba(110,85,245,0.5)", outer: "rgba(150,135,250,0.45)" },
};

interface MiniSpec {
  title: string; series: Pt[]; bands: Band[]; circles: Circ[]; circleR: number[];
  color: string; yMin: number; yMax: number; yTicks: number[];
  box: [number, number, number, number]; titleY: number;
}

const miniSpecs: MiniSpec[] = [
  { title: "CNN | HAR Testset 17 | Channel 7", series: har17ch7, bands: [band17], circles: [], circleR: [], color: "orange", yMin: -3.05, yMax: 2.64, yTicks: ytA, box: [29, 29, 356, 104], titleY: 23 },
  { title: "CNN | HAR Testset 18 | Channel 7", series: har18ch7, bands: [band18], circles: [], circleR: [], color: "orange", yMin: -3, yMax: 3, yTicks: ytB, box: [29, 163, 356, 103], titleY: 155 },
  { title: "CNN | HAR Testset 83 | Channel 15", series: har83ch15a, bands: [band83a], circles: circles83a, circleR: [22, 20], color: "orange", yMin: -3.1, yMax: 5.5, yTicks: ytC, box: [427, 29, 355, 104], titleY: 23 },
  { title: "CNN | HAR Testset 275 | Channel 25", series: har275ch25, bands: [band275], circles: circles275, circleR: [22, 21], color: "orange", yMin: -3.65, yMax: 4.5, yTicks: ytC, box: [427, 163, 355, 104], titleY: 155 },
  { title: "CNN | HAR Testset 60 | Channel 9", series: har60ch9, bands: [band60], circles: [], circleR: [], color: "cyan", yMin: -3.7, yMax: 3.5, yTicks: ytB, box: [29, 316, 357, 95], titleY: 310 },
  { title: "CNN | HAR Testset 7 | Channel 30", series: har7ch30, bands: [band7], circles: [], circleR: [], color: "cyan", yMin: -4, yMax: 3.4, yTicks: ytD, box: [29, 438, 357, 93], titleY: 430 },
  { title: "CNN | HAR Testset 62 | Channel 8", series: har62ch8, bands: [band62], circles: circles62, circleR: [22], color: "cyan", yMin: -2.95, yMax: 3.5, yTicks: ytE, box: [427, 316, 355, 95], titleY: 310 },
  { title: "CNN | HAR Testset 224 | Channel 10", series: har224ch10, bands: [band224], circles: circles224, circleR: [23], color: "cyan", yMin: -2.85, yMax: 3.4, yTicks: ytE, box: [427, 439, 355, 94], titleY: 432 },
  { title: "CNN | HAR Testset 49 | Channel 20", series: har49ch20, bands: [band49], circles: [], circleR: [], color: "green", yMin: -3.6, yMax: 2.6, yTicks: ytA, box: [29, 584, 356, 105], titleY: 577 },
  { title: "CNN | HAR Testset 174 | Channel 30", series: har174ch30, bands: [band174], circles: [], circleR: [], color: "green", yMin: -3.6, yMax: 2.7, yTicks: ytA, box: [29, 720, 356, 104], titleY: 713 },
  { title: "CNN | HAR Testset 83 | Channel 15", series: har83ch15b, bands: [band83b], circles: circles83b, circleR: [25], color: "green", yMin: -3.65, yMax: 3.9, yTicks: ytB, box: [424, 584, 356, 104], titleY: 577 },
  { title: "CNN | HAR Testset 389 | Channel 19", series: har389ch19, bands: [band389], circles: circles389, circleR: [22], color: "green", yMin: -3.7, yMax: 3.5, yTicks: ytB, box: [424, 719, 356, 102], titleY: 709 },
  { title: "CNN | HAR Testset 33 | Channel 22", series: har33ch22, bands: [band33], circles: [], circleR: [], color: "blue", yMin: -3.45, yMax: 2.8, yTicks: ytA, box: [28, 871, 357, 104], titleY: 863 },
  { title: "CNN | HAR Testset 34 | Channel 3", series: har34, bands: [band34a], circles: [], circleR: [], color: "blue", yMin: -3.3, yMax: 2.8, yTicks: ytA, box: [28, 1008, 356, 104], titleY: 1001 },
  { title: "CNN | HAR Testset 34 | Channel 14", series: har34, bands: [band34b, band34c], circles: circles34, circleR: [20], color: "blue", yMin: -3.25, yMax: 2.8, yTicks: ytA, box: [427, 871, 356, 104], titleY: 863 },
  { title: "CNN | HAR Testset 81 | Channel 27", series: har81ch27, bands: [band81], circles: circles81, circleR: [28], color: "blue", yMin: -3.2, yMax: 4.1, yTicks: ytF, box: [427, 1010, 354, 104], titleY: 1002 },
];

interface CphapSpec {
  title: string; mean: number[]; hi: number[]; lo: number[]; members: number[][]; circles: Circ[];
  color: string; box: [number, number, number, number]; titleY: number;
}

const cphapSpecs: CphapSpec[] = [
  { title: "CPHAP 17", mean: cphap17Mean, hi: cphap17Hi, lo: cphap17Lo, members: cphap17Members, circles: cphap17Circles, color: "#f6b54a", box: [821, 47, 217, 210], titleY: 67 },
  { title: "CPHAP 47", mean: cphap47Mean, hi: cphap47Hi, lo: cphap47Lo, members: cphap47Members, circles: cphap47Circles, color: "#19b5ea", box: [818, 326, 226, 200], titleY: 345 },
  { title: "CPHAP 31", mean: cphap31Mean, hi: cphap31Hi, lo: cphap31Lo, members: cphap31Members, circles: cphap31Circles, color: "#6cf0a0", box: [820, 603, 217, 211], titleY: 622 },
  { title: "CPHAP 58", mean: cphap58Mean, hi: cphap58Hi, lo: cphap58Lo, members: cphap58Members, circles: cphap58Circles, color: "#5b3ff5", box: [820, 888, 217, 210], titleY: 908 },
];

const PT = 10, PR = 12, YW = 26, XH = 16;

const minus = (v: number) => (v < 0 ? "\u2212" + Math.abs(v) : String(v));

const framePlugin = {
  id: "frame",
  afterDatasetsDraw(chart: any) {
    const { ctx, chartArea: a } = chart;
    ctx.save();
    ctx.strokeStyle = "#6b6b6b";
    ctx.lineWidth = 1.2;
    ctx.strokeRect(a.left, a.top, a.right - a.left, a.bottom - a.top);
    ctx.restore();
  },
};

function MiniChart({ s }: { s: MiniSpec }) {
  const ref = useRef<HTMLCanvasElement>(null);
  const [l, t, w, h] = s.box;
  useEffect(() => {
    if (!ref.current) return;
    const pal = PAL[s.color];
    const ds: any[] = [];
    s.bands.forEach((b) => {
      const xs = b.center.map((_, i) => b.x0 + 2 * i);
      const edge = (sp: number[], sign: number) => b.center.map((c, i) => ({ x: xs[i], y: c + sign * sp[i] }));
      const base = { pointRadius: 0, borderWidth: 0, tension: 0.4, borderColor: "rgba(0,0,0,0)" };
      ds.push({ ...base, data: edge(b.outer, 1), fill: false, order: 10 });
      ds.push({ ...base, data: edge(b.outer, -1), fill: "-1", backgroundColor: pal.outer, order: 10 });
      ds.push({ ...base, data: edge(b.inner, 1), fill: false, order: 9 });
      ds.push({ ...base, data: edge(b.inner, -1), fill: "-1", backgroundColor: pal.inner, order: 9 });
    });
    const inBand = (a: number, c: number) => s.bands.some((b) => a >= b.x0 - 1e-6 && c <= b.x0 + 12 + 1e-6);
    const pts = s.series.map(([x, y]) => ({ x, y }));
    ds.push({
      data: pts, pointRadius: 0, cubicInterpolationMode: "monotone", borderColor: "#111", borderWidth: 1.8,
      fill: false, order: 5, borderJoinStyle: "round",
      segment: {
        borderColor: (c: any) => (inBand(c.p0.parsed.x, c.p1.parsed.x) ? pal.line : undefined),
        borderWidth: (c: any) => (inBand(c.p0.parsed.x, c.p1.parsed.x) ? 2.8 : undefined),
      },
    });
    ds.push({
      data: pts, pointRadius: 0, cubicInterpolationMode: "monotone", borderColor: "rgba(0,0,0,0)", borderWidth: 1.4,
      borderDash: [3.5, 2.5], fill: false, order: 1,
      segment: { borderColor: (c: any) => (inBand(c.p0.parsed.x, c.p1.parsed.x) ? "#111" : undefined) },
    });
    const circlePlugin = {
      id: "redCircles",
      afterDraw(chart: any) {
        const { ctx, scales } = chart;
        ctx.save();
        ctx.strokeStyle = "#c00000";
        ctx.lineWidth = 4.2;
        ctx.setLineDash([17, 9]);
        s.circles.forEach((c, i) => {
          const px = scales.x.getPixelForValue(c.x);
          const py = scales.y.getPixelForValue(c.y);
          ctx.beginPath();
          ctx.arc(px, py, s.circleR[i] ?? 22, -2.6, -2.6 + Math.PI * 2);
          ctx.stroke();
        });
        ctx.restore();
      },
    };
    const tickFont = { size: 5.5, family: "'DejaVu Sans', sans-serif" };
    const grid = { display: true, drawOnChartArea: false, drawTicks: true, tickLength: 3, color: "#555", lineWidth: 0.8 };
    const chart = new Chart(ref.current, {
      type: "line",
      data: { datasets: ds },
      options: {
        animation: false, responsive: false, events: [],
        layout: { padding: { top: PT, right: PR, left: 0, bottom: 0 } },
        plugins: { legend: { display: false }, tooltip: { enabled: false } },
        scales: {
          x: {
            type: "linear", min: 1, max: 127,
            afterBuildTicks: (sc: any) => { sc.ticks = xTickValues.map((v) => ({ value: v })); },
            afterFit: (sc: any) => { sc.height = XH; },
            grid, border: { display: false },
            ticks: { font: tickFont, color: "#333", padding: 2, autoSkip: false, maxRotation: 0, callback: (v: any) => minus(Number(v)) },
          },
          y: {
            type: "linear", min: s.yMin, max: s.yMax,
            afterBuildTicks: (sc: any) => { sc.ticks = s.yTicks.map((v) => ({ value: v })); },
            afterFit: (sc: any) => { sc.width = YW; },
            grid, border: { display: false },
            ticks: { font: tickFont, color: "#333", padding: 2, autoSkip: false, callback: (v: any) => minus(Number(v)) },
          },
        },
      } as any,
      plugins: [framePlugin, circlePlugin],
    });
    return () => chart.destroy();
  }, []);
  return (
    <>
      <div style={{ position: "absolute", left: l + w / 2, top: s.titleY - 7, transform: "translateX(-50%)", whiteSpace: "nowrap",
        font: "12.7px 'DejaVu Sans', sans-serif", lineHeight: "14px", color: "#262626" }}>{s.title}</div>
      <canvas ref={ref} width={w + YW + PR} height={h + PT + XH}
        style={{ position: "absolute", left: l - YW, top: t - PT, width: w + YW + PR, height: h + PT + XH }} />
    </>
  );
}

function CphapChart({ s }: { s: CphapSpec }) {
  const ref = useRef<HTMLCanvasElement>(null);
  const [l, t, w, h] = s.box;
  useEffect(() => {
    if (!ref.current) return;
    const toPts = (arr: number[]) => arr.map((y, i) => ({ x: i, y }));
    const ds: any[] = [
      { data: toPts(s.hi), borderWidth: 0, pointRadius: 0, fill: false, tension: 0.25, order: 6, borderColor: "rgba(0,0,0,0)" },
      { data: toPts(s.lo), borderWidth: 0, pointRadius: 0, fill: "-1", backgroundColor: "#808080", tension: 0.25, order: 6, borderColor: "rgba(0,0,0,0)" },
      ...s.members.map((m) => ({ data: toPts(m), borderColor: "rgba(128,128,128,0.6)", borderWidth: 1.1, pointRadius: 0, tension: 0, fill: false, order: 4 })),
      { data: toPts(s.mean), borderColor: s.color, borderWidth: 4.5, pointRadius: 0, tension: 0.4, fill: false, order: 1, borderCapStyle: "round" },
    ];
    const yellow = {
      id: "yellow",
      afterDatasetsDraw(chart: any) {
        const { ctx, scales } = chart;
        ctx.save();
        ctx.fillStyle = "rgba(255,255,0,0.37)";
        s.circles.forEach((c) => {
          ctx.beginPath();
          ctx.arc(scales.x.getPixelForValue(c.x), scales.y.getPixelForValue(c.y), 33, 0, Math.PI * 2);
          ctx.fill();
        });
        ctx.restore();
      },
    };
    const chart = new Chart(ref.current, {
      type: "line",
      data: { datasets: ds },
      options: {
        animation: false, responsive: false, events: [],
        layout: { padding: 0 },
        plugins: { legend: { display: false }, tooltip: { enabled: false } },
        scales: {
          x: { type: "linear", min: -0.55, max: 12.58, display: false },
          y: { type: "linear", min: -3, max: 3, display: false },
        },
      } as any,
      plugins: [yellow],
    });
    return () => chart.destroy();
  }, []);
  return (
    <>
      <canvas ref={ref} width={w} height={h} style={{ position: "absolute", left: l, top: t, width: w, height: h }} />
      <div style={{ position: "absolute", left: l - 1, top: t - 1, width: w, height: h, border: "1px solid #555", pointerEvents: "none" }} />
      <div style={{ position: "absolute", left: l + w / 2, top: s.titleY - 11, transform: "translateX(-50%)", whiteSpace: "nowrap",
        font: "18.6px 'DejaVu Sans', sans-serif", lineHeight: "22px", color: "#111" }}>{s.title}</div>
    </>
  );
}

const hLines = [4, 286, 561, 843, 1134];
const vLines = [5, 400, 795, 1045];
const captions = ["(a) Well-matched cases", "(b) Less-matched cases", "(c) CPHAP"];
const captionX = [190, 600, 933];

export default function App() {
  return (
    <div style={{ position: "absolute", left: 0, top: 0, width: 1047, height: 1171, background: "#fff", overflow: "hidden" }}>
      {hLines.map((y) => (
        <div key={"h" + y} style={{ position: "absolute", left: 5, top: y - 1, width: 1041, height: 2, background: "#c6c6c6" }} />
      ))}
      {vLines.map((x) => (
        <div key={"v" + x} style={{ position: "absolute", left: x - 1, top: 3, width: 2, height: 1133, background: "#c6c6c6" }} />
      ))}
      {miniSpecs.map((s, i) => <MiniChart key={i} s={s} />)}
      {cphapSpecs.map((s, i) => <CphapChart key={"c" + i} s={s} />)}
      {captions.map((text, i) => (
        <div key={text} style={{ position: "absolute", left: captionX[i], top: 1142, transform: "translateX(-50%)", whiteSpace: "nowrap",
          font: "26px Lato, 'Open Sans', sans-serif", lineHeight: "30px", color: "#111" }}>{text}</div>
      ))}
    </div>
  );
}
